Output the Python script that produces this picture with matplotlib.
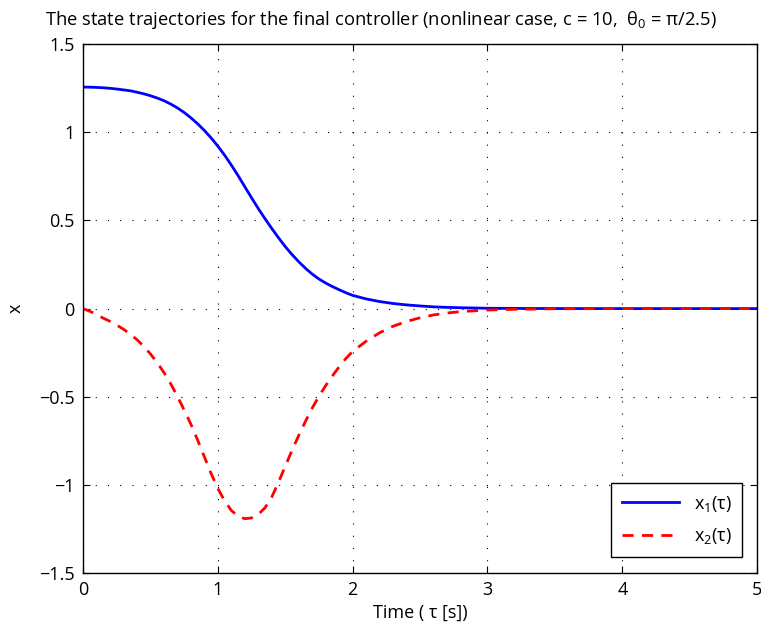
import numpy as np
import matplotlib
matplotlib.use("Agg")
import matplotlib.pyplot as plt

plt.rcParams['font.family'] = ['Open Sans', 'DejaVu Sans']
plt.rcParams['mathtext.fontset'] = 'custom'
plt.rcParams['mathtext.rm'] = 'Open Sans'
plt.rcParams['mathtext.it'] = 'Open Sans'

# time samples [s]
t = [0.00, 0.05, 0.10, 0.15, 0.20, 0.25, 0.30, 0.35, 0.40, 0.45,
     0.50, 0.55, 0.60, 0.65, 0.70, 0.75, 0.80, 0.85, 0.90, 0.95,
     1.00, 1.05, 1.10, 1.15, 1.20, 1.25, 1.30, 1.35, 1.40, 1.45,
     1.50, 1.55, 1.60, 1.65, 1.70, 1.75, 1.80, 1.85, 1.90, 1.95,
     2.00, 2.10, 2.20, 2.30, 2.40, 2.50, 2.60, 2.70, 2.80, 3.00,
     3.20, 3.50, 4.00, 4.50, 5.00]

# state x1 (angle)
x1 = [1.257, 1.2565, 1.255, 1.253, 1.250, 1.246, 1.241, 1.236, 1.228, 1.219,
      1.208, 1.195, 1.180, 1.161, 1.139, 1.113, 1.083, 1.049, 1.011, 0.969,
      0.922, 0.871, 0.815, 0.755, 0.692, 0.629, 0.568, 0.510, 0.455, 0.402,
      0.352, 0.307, 0.266, 0.229, 0.196, 0.168, 0.145, 0.125, 0.107, 0.090,
      0.075, 0.055, 0.040, 0.029, 0.021, 0.015, 0.010, 0.007, 0.005, 0.002,
      0.001, 0.0003, 0.0, 0.0, 0.0]

# state x2 (angular rate)
x2 = [0.0, -0.015, -0.033, -0.054, -0.072, -0.093, -0.117, -0.144, -0.176, -0.213,
      -0.257, -0.306, -0.362, -0.425, -0.497, -0.575, -0.655, -0.745, -0.840, -0.935,
      -1.020, -1.090, -1.145, -1.178, -1.192, -1.188, -1.168, -1.130, -1.070, -0.985,
      -0.895, -0.805, -0.720, -0.640, -0.565, -0.497, -0.437, -0.382, -0.330, -0.283,
      -0.243, -0.185, -0.137, -0.100, -0.073, -0.052, -0.036, -0.025, -0.017, -0.008,
      -0.004, -0.001, 0.0, 0.0, 0.0]

fig = plt.figure(figsize=(7.61, 6.32), dpi=100)
ax = fig.add_axes([0.109, 0.0934, 0.886, 0.8366])

ax.plot(t, x1, color='#0000ff', lw=2.0, label='x$_1$(τ)')
ax.plot(t, x2, color='#ff0000', lw=2.0, ls=(0, (4, 3)), label='x$_2$(τ)')

ax.set_xlim(0, 5)
ax.set_ylim(-1.5, 1.5)
ax.set_xticks([0, 1, 2, 3, 4, 5])
ax.set_yticks([-1.5, -1, -0.5, 0, 0.5, 1, 1.5])
ax.set_yticklabels(['\u22121.5', '\u22121', '\u22120.5', '0', '0.5', '1', '1.5'])
ax.tick_params(direction='in', top=True, right=True, labelsize=13, length=5, pad=6)
ax.grid(True, color='black', ls=(0, (1, 10)), lw=0.8)
for s in ax.spines.values():
    s.set_linewidth(1.0)

ax.set_xlabel('Time ( τ [s])', fontsize=13, labelpad=3)
ax.set_ylabel('x', fontsize=13, labelpad=10)
fig.text(0.5, 1 - 20 / 632,
         'The state trajectories for the final controller (nonlinear case, c = 10,  θ$_0$ = π/2.5)',
         fontsize=13.2, ha='center', va='center')

leg = ax.legend(loc='lower right', bbox_to_anchor=(0.978, 0.030), borderaxespad=0,
                fancybox=False, framealpha=1, edgecolor='black', fontsize=13,
                handlelength=3.2, labelspacing=0.7, borderpad=0.6)
leg.get_frame().set_linewidth(1.0)

fig.savefig('out.png', dpi=100)
